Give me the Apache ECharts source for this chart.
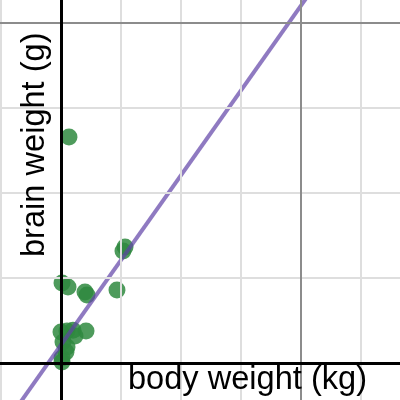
<!DOCTYPE html>
<html>
<head>
<meta charset="utf-8">
<script src="https://cdn.jsdelivr.net/npm/echarts@6/dist/echarts.min.js"></script>
<style>html,body{margin:0;padding:0;background:#fff}#c{width:400px;height:400px}</style>
</head>
<body>
<div id="c"></div>
<script>
// data (grid units: 1 minor grid step)
const bodyWeight  = [0.133, 1.067, 1.033, 0.017, 0.117, 0.40, 0.433, 0.933, 0.00, 0.10, 0.20, 0.417, 0.233, 0.033, 0.10, 0.083, 0.017, 0.017];
const brainWeight = [2.66, 1.365, 1.318, 0.941, 0.894, 0.835, 0.80, 0.859, 0.365, 0.376, 0.385, 0.376, 0.318, 0.247, 0.188, 0.129, 0.059, 0.012];
const trendSlope = 0.998;
const trendIntercept = 0.213;
const trendRange = [-1.2, 4.5];
const xMinorLines = [-1, 1, 2, 3, 5];
const xMajorLines = [4];
const yMinorLines = [1, 2, 3];
const yMajorLines = [4];
const xLabel = 'body weight (kg)';
const yLabel = 'brain weight (g)';

const points = bodyWeight.map((x, i) => [x, brainWeight[i]]);
const trend = trendRange.map(x => [x, trendSlope * x + trendIntercept]);

const ml = (vals, key, color, width) => vals.map(v => ({[key]: v, lineStyle: {color, width, type: 'solid'}}));

const chart = echarts.init(document.getElementById('c'), null, {renderer: 'canvas'});
chart.setOption({
  animation: false,
  grid: {left: 0, right: 0, top: 0, bottom: 0},
  xAxis: {type: 'value', min: -61/60, max: 339/60, axisLine: {show: false}, axisTick: {show: false}, axisLabel: {show: false}, splitLine: {show: false}},
  yAxis: {type: 'value', min: -37/85, max: 363/85, axisLine: {show: false}, axisTick: {show: false}, axisLabel: {show: false}, splitLine: {show: false}},
  series: [
    {
      type: 'line', data: [], silent: true, z: 1,
      markLine: {
        silent: true, symbol: 'none', label: {show: false}, animation: false,
        data: [].concat(
          ml(xMinorLines, 'xAxis', '#dedede', 2),
          ml(yMinorLines, 'yAxis', '#dedede', 2),
          ml(xMajorLines, 'xAxis', '#8c8c8c', 2),
          ml(yMajorLines, 'yAxis', '#8c8c8c', 2),
          ml([0], 'xAxis', '#000', 3),
          ml([0], 'yAxis', '#000', 3)
        )
      }
    },
    {
      type: 'scatter', data: points, z: 3, symbolSize: 17,
      itemStyle: {color: '#2f8a3f', opacity: 0.85}
    },
    {
      type: 'line', data: trend, z: 4, symbol: 'none', silent: true,
      lineStyle: {color: '#6042a6', width: 4, opacity: 0.7}
    }
  ],
  graphic: [
    {type: 'text', left: null, x: 128, y: 380, z: 10,
      style: {text: xLabel, font: '32.6px "Liberation Sans", Arial, sans-serif', fill: '#000', textAlign: 'left', textVerticalAlign: 'middle'}},
    {type: 'text', x: 35, y: 257, rotation: Math.PI / 2, z: 10,
      style: {text: yLabel, font: '32.6px "Liberation Sans", Arial, sans-serif', fill: '#000', textAlign: 'left', textVerticalAlign: 'middle'}}
  ]
});
</script>
</body>
</html>
